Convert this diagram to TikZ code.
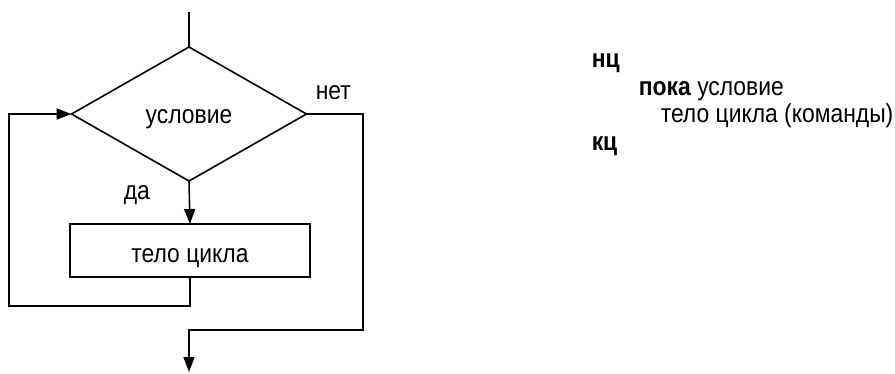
\documentclass[tikz,border=0pt]{standalone}
\usepackage{fontspec}
\setmainfont{Liberation Sans}[FakeStretch=0.88]
\usetikzlibrary{shapes.geometric,arrows.meta}

\begin{document}
\begin{tikzpicture}[x=1pt, y=-1pt, line width=1.6pt,
    font=\fontsize{26}{30}\selectfont,
    >={Triangle[length=15pt,width=11pt]},
    cond/.style={diamond, draw, aspect=1.75, minimum width=235pt, minimum height=134pt, inner sep=0pt, outer sep=0pt, text height=18pt, text depth=0pt},
    body/.style={rectangle, draw, minimum width=240pt, minimum height=53pt, inner sep=0pt, outer sep=0pt, text height=23pt, text depth=0pt},
    lbl/.style={anchor=base west, inner sep=0pt}]
    \useasboundingbox (0,0) rectangle (895,373);
    % flowchart
    \coordinate (start) at (189,12);
    \node[cond] (cond) at (189,114) {условие};
    \node[body] (body) at (190,250.5) {тело цикла};
    \coordinate (loopL) at (9,306);
    \coordinate (exitR) at (363,330);
    \coordinate (end) at (189,372);
    \draw (start) -- (cond.north);
    \draw[->] (cond.south) -- (body.north);
    \draw[->] (body.south) |- (loopL) |- (cond.west);
    \draw[->] (cond.east) -| (exitR) -| (end);
    \node[lbl] (yes) at (123,199) {да};
    \node[lbl] (no) at (315,99) {нет};
    % program text
    \node[lbl] (nc) at (591,67) {\textbf{нц}};
    \node[lbl] (while) at (638,95) {\textbf{пока} условие};
    \node[lbl] (cmds) at (660,122) {тело цикла (команды)};
    \node[lbl] (kc) at (591,150) {\textbf{кц}};
\end{tikzpicture}
\end{document}
